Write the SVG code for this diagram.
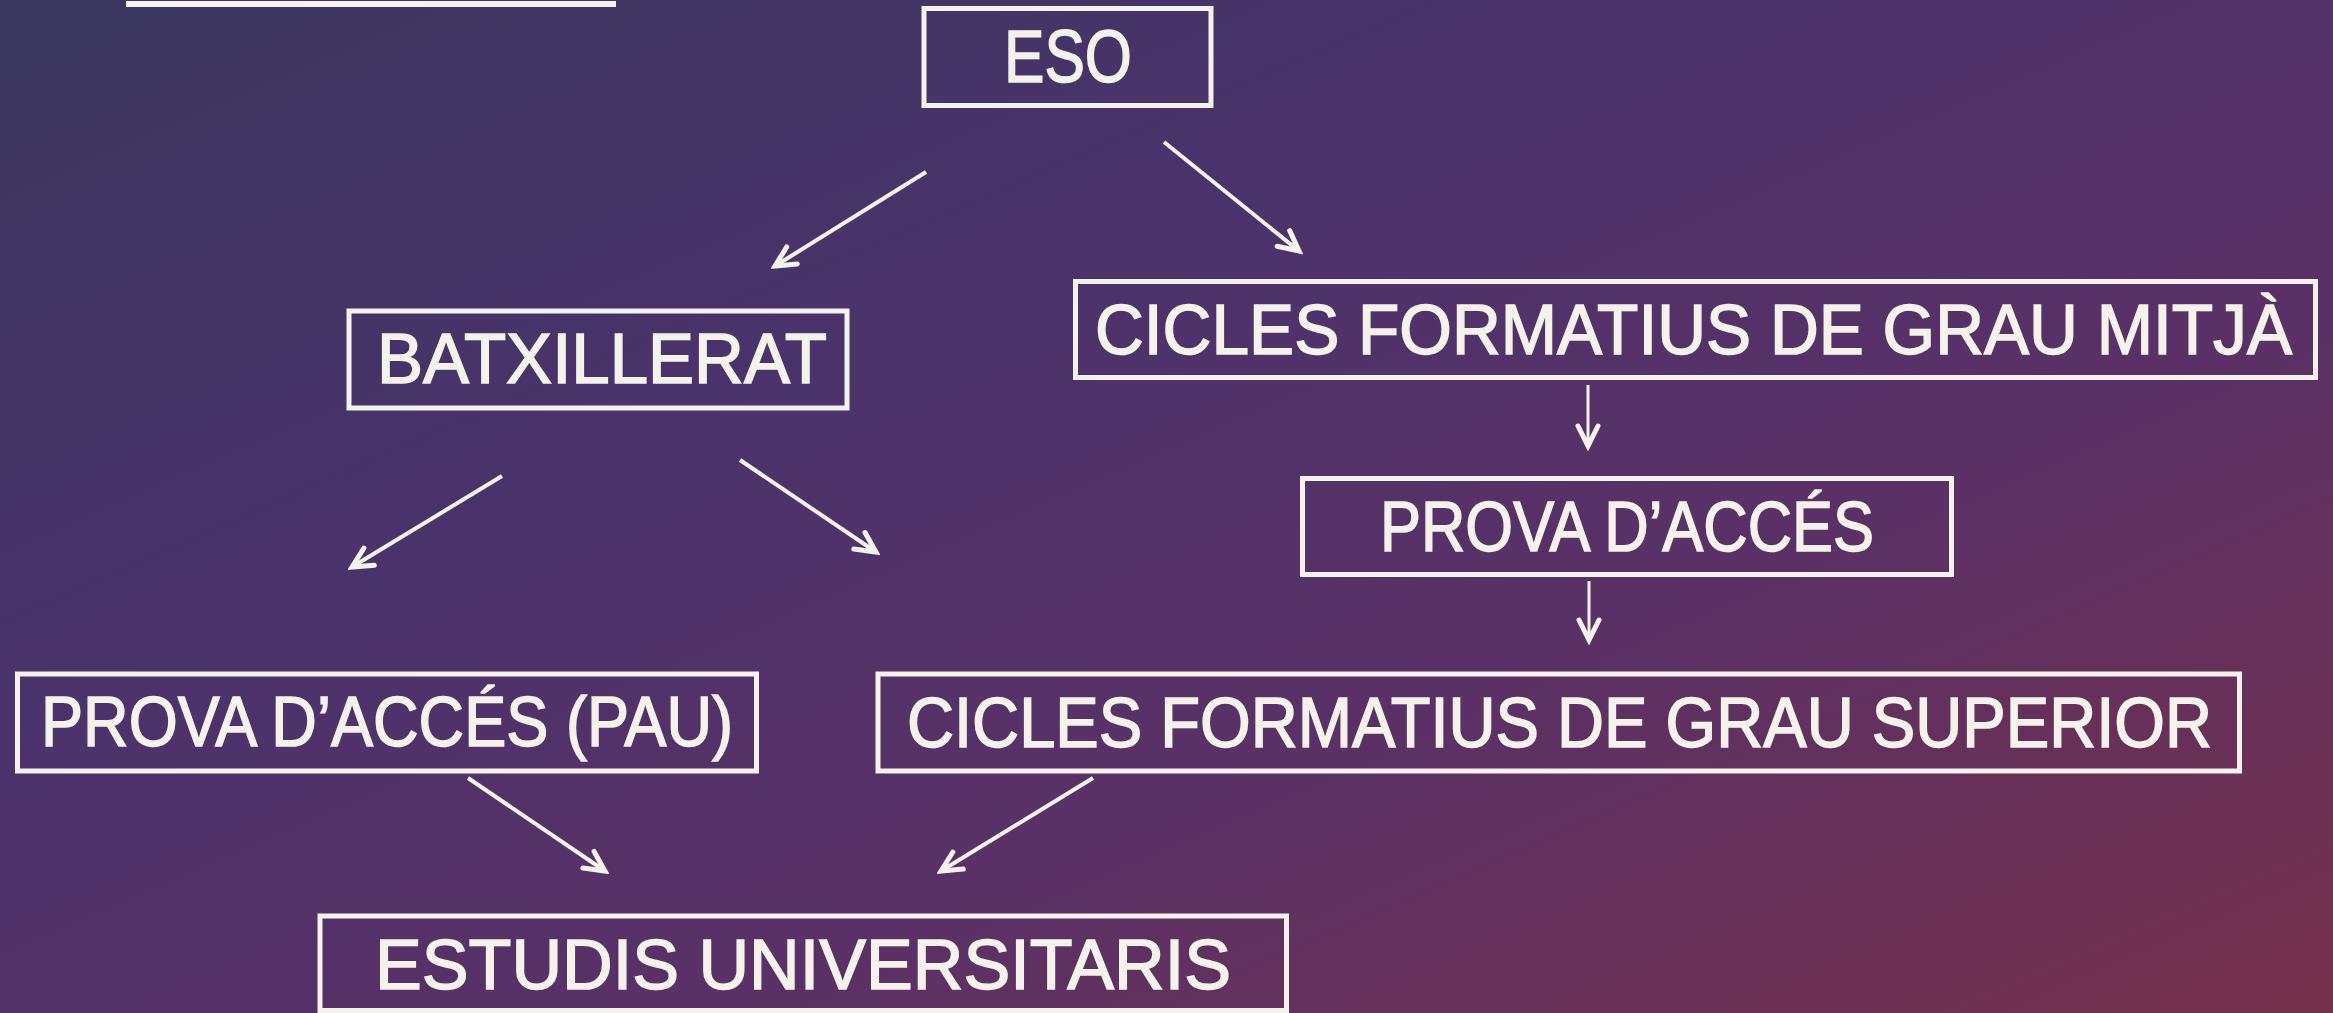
<svg xmlns="http://www.w3.org/2000/svg" width="2333" height="1013" viewBox="0 0 2333 1013">
<defs>
<linearGradient id="bg" x1="0" y1="0" x2="1" y2="1">
<stop offset="0" stop-color="#3a375e"/>
<stop offset="0.35" stop-color="#4a336b"/>
<stop offset="0.65" stop-color="#5a3166"/>
<stop offset="1" stop-color="#75304a"/>
</linearGradient>
<marker id="ah" markerUnits="userSpaceOnUse" markerWidth="30" markerHeight="30" refX="20" refY="10" orient="auto" viewBox="0 0 24 20">
<path d="M4,2 L20,10 L4,18" fill="none" stroke="#f4f2ea" stroke-width="4" stroke-linecap="round" stroke-linejoin="miter"/>
</marker>
</defs>
<style>
.box{fill:none;stroke:#f4f2ea;stroke-width:5}
.lbl{fill:#f4f2ea;stroke:#f4f2ea;stroke-width:1.5;font-family:"Comic Sans MS","Liberation Sans Narrow","Liberation Sans",sans-serif;font-size:70px}
.conn{stroke:#f4f2ea;stroke-width:4;fill:none;marker-end:url(#ah)}
</style>
<rect width="2333" height="1013" fill="url(#bg)"/>
<rect x="126" y="1" width="490" height="6" fill="#f4f2ea"/>
<g id="eso"><rect class="box" x="924" y="8.5" width="287" height="97"/><text class="lbl" x="1004" y="82" textLength="128" lengthAdjust="spacingAndGlyphs" style="font-size:74px">ESO</text></g>
<g id="batxillerat"><rect class="box" x="349" y="311" width="498" height="97"/><text class="lbl" x="377" y="383" textLength="450" lengthAdjust="spacingAndGlyphs">BATXILLERAT</text></g>
<g id="cfgm"><rect class="box" x="1075.5" y="281.5" width="1240" height="96"/><text class="lbl" x="1095" y="354" textLength="1197" lengthAdjust="spacingAndGlyphs">CICLES FORMATIUS DE GRAU MITJÀ</text></g>
<g id="prova"><rect class="box" x="1302.5" y="478.5" width="649" height="96"/><text class="lbl" x="1380" y="551" textLength="494" lengthAdjust="spacingAndGlyphs">PROVA D’ACCÉS</text></g>
<g id="pau"><rect class="box" x="17.5" y="674" width="739" height="97"/><text class="lbl" x="41" y="746" textLength="692" lengthAdjust="spacingAndGlyphs">PROVA D’ACCÉS (PAU)</text></g>
<g id="cfgs"><rect class="box" x="878" y="674" width="1361.5" height="97"/><text class="lbl" x="907" y="747" textLength="1305" lengthAdjust="spacingAndGlyphs">CICLES FORMATIUS DE GRAU SUPERIOR</text></g>
<g id="universitat"><rect class="box" x="320" y="916" width="966.5" height="94.5"/><text class="lbl" x="375" y="989" textLength="856" lengthAdjust="spacingAndGlyphs">ESTUDIS UNIVERSITARIS</text></g>
<g id="connectors">
<line class="conn" x1="926" y1="172" x2="775" y2="266"/>
<line class="conn" x1="1164" y1="142" x2="1299" y2="251"/>
<line class="conn" x1="1588" y1="385" x2="1588" y2="446" style="stroke-width:3"/>
<line class="conn" x1="1589" y1="581" x2="1589" y2="640" style="stroke-width:3"/>
<line class="conn" x1="502" y1="476" x2="352" y2="567"/>
<line class="conn" x1="740" y1="460" x2="876" y2="552"/>
<line class="conn" x1="468" y1="778" x2="605" y2="871"/>
<line class="conn" x1="1093" y1="778" x2="941" y2="871"/>
</g>
</svg>
